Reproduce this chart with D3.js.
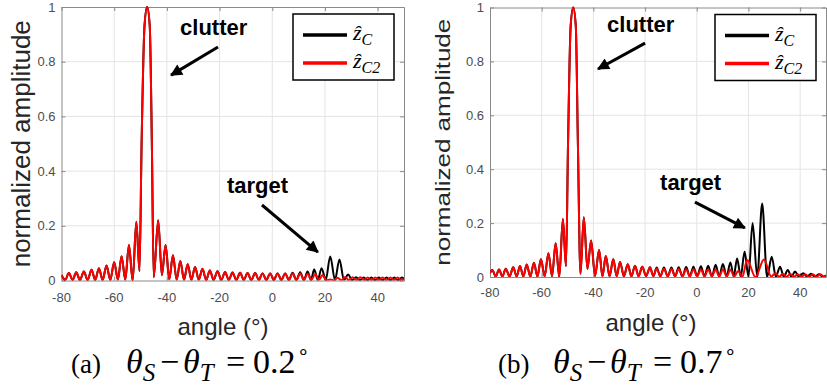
<html>
<head>
<meta charset="utf-8">
<title>clutter / target pattern</title>
<script src="https://d3js.org/d3.v7.min.js"></script>
<style>
  body { margin: 0; background: #ffffff; }
  svg text { font-family: "Liberation Sans", Arial, sans-serif; }
  .tick-label { font-size: 13px; fill: #4d4d4d; }
  .y-title { font-size: 26px; fill: #262626; }
  .x-title { font-size: 24px; fill: #262626; }
  .note { font-size: 22px; font-weight: bold; fill: #000; }
  .legend-text { font-family: "Liberation Serif", serif; font-style: italic; fill: #000; }
  .caption { font-family: "Liberation Serif", "Times New Roman", serif; fill: #000; }
  .grid line { stroke: #e4e4e4; stroke-width: 1; }
</style>
</head>
<body>
<div class="chart-wrapper"></div>
<script>
var xTicks = [-80, -60, -40, -20, 0, 20, 40];
var yTicks = [0, 0.2, 0.4, 0.6, 0.8, 1];
var yTickLabels = ['0', '0.2', '0.4', '0.6', '0.8', '1'];
var xDomain = [-80, 50];
var legendNames = [['ẑ', 'C'], ['ẑ', 'C2']];
var seriesColors = ['#000000', '#ff0000'];

// (a) shared part of both curves: [angle, amplitude], peaks and nulls
var headA = [
    [-80, 0.020], [-78.6, 0.002], [-77.2, 0.027], [-75.8, 0.002], [-74.4, 0.030], [-73.0, 0.002],
    [-71.5, 0.033], [-70.1, 0.002], [-68.6, 0.039], [-67.2, 0.002], [-65.8, 0.045], [-64.4, 0.002],
    [-62.9, 0.055], [-61.5, 0.002], [-60.0, 0.067], [-58.6, 0.003], [-57.2, 0.089], [-55.8, 0.003],
    [-54.4, 0.130], [-53.0, 0.000], [-51.6, 0.215], [-50.4, 0.035], [-49.6, 0.50], [-48.5, 0.93],
    [-47.5, 1.000], [-46.5, 0.93], [-45.7, 0.50], [-45.0, 0.012], [-43.3, 0.220], [-41.9, 0.020],
    [-40.5, 0.130], [-39.1, 0.004], [-37.7, 0.092], [-36.3, 0.003], [-34.9, 0.071], [-33.5, 0.003],
    [-32.1, 0.059], [-30.7, 0.003], [-29.3, 0.049], [-27.9, 0.003], [-26.5, 0.043], [-25.1, 0.002],
    [-23.7, 0.037], [-22.25, 0.002], [-20.8, 0.034], [-19.35, 0.002], [-17.9, 0.031], [-16.5, 0.002],
    [-15.1, 0.029], [-13.65, 0.002], [-12.2, 0.028], [-10.8, 0.002], [-9.4, 0.027], [-7.95, 0.002],
    [-6.5, 0.027], [-5.1, 0.002], [-3.7, 0.026], [-2.25, 0.002], [-0.8, 0.026], [0.6, 0.002],
    [2.0, 0.026], [3.45, 0.002], [4.9, 0.026]
];
var zcTailA = [
    [6.3, 0.002], [7.7, 0.028], [9.15, 0.002], [10.6, 0.030], [12.0, 0.002], [13.4, 0.033],
    [14.7, 0.002], [15.9, 0.040], [17.3, 0.002], [18.7, 0.045], [20.3, 0.002], [22.0, 0.088],
    [23.8, 0.002], [25.5, 0.077], [27.2, 0.002], [28.8, 0.022], [30.3, 0.001], [31.8, 0.012],
    [33.2, 0.001], [34.7, 0.011], [36.1, 0.001], [37.6, 0.011], [39.0, 0.001], [40.5, 0.011],
    [41.9, 0.001], [43.4, 0.011], [44.8, 0.001], [46.3, 0.011], [47.7, 0.001], [49.2, 0.011],
    [50, 0.006]
];
var zc2TailA = [
    [6.3, 0.002], [7.7, 0.026], [9.15, 0.002], [10.6, 0.026], [12.0, 0.002], [13.4, 0.025],
    [14.85, 0.002], [16.3, 0.024], [17.7, 0.002], [19.1, 0.020], [20.5, 0.000], [22.0, 0.004],
    [23.4, 0.000], [24.8, 0.010], [26.2, 0.001], [27.7, 0.013], [29.1, 0.001], [30.5, 0.012],
    [32.0, 0.001], [33.4, 0.012], [34.8, 0.001], [36.2, 0.011], [37.6, 0.001], [39.1, 0.011],
    [40.5, 0.001], [41.9, 0.011], [43.4, 0.001], [44.8, 0.011], [46.2, 0.001], [47.6, 0.011],
    [49.0, 0.001], [50, 0.006]
];

// (b)
var headB = [
    [-80, 0.015], [-79.1, 0.026], [-77.8, 0.002], [-76.5, 0.028], [-75.2, 0.002], [-73.9, 0.031],
    [-72.45, 0.002], [-71.0, 0.036], [-69.7, 0.002], [-68.4, 0.041], [-67.1, 0.002], [-65.8, 0.046],
    [-64.4, 0.002], [-63.0, 0.053], [-61.65, 0.002], [-60.3, 0.066], [-58.85, 0.003], [-57.4, 0.088],
    [-56.0, 0.003], [-54.6, 0.125], [-53.2, 0.000], [-51.8, 0.215], [-50.6, 0.040], [-49.8, 0.50],
    [-48.8, 0.93], [-47.8, 1.000], [-46.8, 0.93], [-46.0, 0.50], [-45.0, 0.012], [-43.7, 0.222],
    [-42.3, 0.030], [-40.9, 0.135], [-39.35, 0.004], [-37.8, 0.100], [-36.5, 0.003], [-35.2, 0.078],
    [-33.75, 0.003], [-32.3, 0.066], [-31.0, 0.003], [-29.7, 0.056], [-28.2, 0.003], [-26.7, 0.047],
    [-25.3, 0.003], [-23.9, 0.042], [-22.5, 0.003], [-21.1, 0.038], [-19.6, 0.003], [-18.1, 0.036]
];
var zcTailB = [
    [-16.8, 0.003], [-15.5, 0.035], [-14.1, 0.002], [-12.7, 0.035], [-11.25, 0.002], [-9.8, 0.035],
    [-8.4, 0.002], [-7.0, 0.036], [-5.55, 0.002], [-4.1, 0.037], [-2.7, 0.002], [-1.3, 0.038],
    [0.15, 0.002], [1.6, 0.040], [3.0, 0.002], [4.4, 0.042], [5.85, 0.002], [7.3, 0.045],
    [8.7, 0.002], [10.1, 0.048], [11.55, 0.002], [13.0, 0.054], [14.3, 0.002], [15.6, 0.069],
    [17.0, 0.002], [18.5, 0.094], [20.0, 0.002], [21.6, 0.200], [23.4, 0.000], [25.3, 0.273],
    [27.2, 0.000], [29.0, 0.075], [30.6, 0.001], [32.2, 0.038], [33.7, 0.001], [35.2, 0.026],
    [36.6, 0.001], [38.0, 0.020], [39.6, 0.001], [41.2, 0.014], [42.7, 0.001], [44.2, 0.012],
    [45.7, 0.001], [47.3, 0.010], [48.8, 0.001], [50, 0.006]
];
var zc2TailB = [
    [-16.8, 0.003], [-15.5, 0.032], [-14.1, 0.002], [-12.7, 0.031], [-11.25, 0.002], [-9.8, 0.030],
    [-8.4, 0.002], [-7.0, 0.030], [-5.55, 0.002], [-4.1, 0.029], [-2.7, 0.002], [-1.3, 0.029],
    [0.15, 0.002], [1.6, 0.028], [3.0, 0.002], [4.4, 0.028], [5.85, 0.002], [7.3, 0.028],
    [8.7, 0.002], [10.1, 0.028], [11.6, 0.002], [13.0, 0.027], [14.5, 0.002], [16.0, 0.022],
    [17.6, 0.000], [19.5, 0.063], [22.7, 0.000], [26.0, 0.065], [28.8, 0.002], [30.4, 0.014],
    [31.9, 0.001], [33.3, 0.012], [34.7, 0.001], [36.2, 0.011], [37.6, 0.001], [39.1, 0.010],
    [40.5, 0.001], [42.0, 0.010], [43.4, 0.001], [44.9, 0.010], [46.3, 0.001], [47.8, 0.010],
    [49.2, 0.001], [50, 0.006]
];

// annotations in data units: [textX, textY, arrowFromX, arrowFromY, arrowToX, arrowToY]
var clutterNoteA = [-35.0, 0.897, -20.6, 0.854, -38.4, 0.751];
var targetNoteA = [-17.2, 0.320, -3.9, 0.276, 17.3, 0.104];
var clutterNoteB = [-34.7, 0.909, -20.0, 0.868, -38.2, 0.772];
var targetNoteB = [-14.2, 0.323, -0.7, 0.278, 18.6, 0.182];

var panels = [
    { id: 'a', left: 61.5, right: 404, top: 7, bottom: 280.5, series: [headA.concat(zcTailA), headA.concat(zc2TailA)],
      clutter: clutterNoteA, target: targetNoteA, titleX: 30, titleSquash: 1, xLabelY: 302,
      angleX: 223, angleY: 335, capX: 71, capLetter: '(a)', capValue: '0.2' },
    { id: 'b', left: 490, right: 826, top: 7.5, bottom: 277, series: [headB.concat(zcTailB), headB.concat(zc2TailB)],
      clutter: clutterNoteB, target: targetNoteB, titleX: 450, titleSquash: 0.75, xLabelY: 297,
      angleX: 651, angleY: 331, capX: 498, capLetter: '(b)', capValue: '0.7' }
];

var svg = d3.select('.chart-wrapper').append('svg')
    .attr('width', 827).attr('height', 387);

var defs = svg.append('defs');
defs.append('marker')
    .attr('id', 'arrowhead')
    .attr('viewBox', '0 0 10 10')
    .attr('refX', 9).attr('refY', 5)
    .attr('markerWidth', 4.5).attr('markerHeight', 4)
    .attr('markerUnits', 'strokeWidth')
    .attr('orient', 'auto')
    .append('path').attr('d', 'M0,0 L10,5 L0,10 z').attr('fill', '#000');

function drawPanel(p) {
    var x = d3.scaleLinear().domain(xDomain).range([p.left, p.right]);
    var y = d3.scaleLinear().domain([0, 1]).range([p.bottom, p.top]);
    var g = svg.append('g').attr('id', 'panel-' + p.id);

    defs.append('clipPath').attr('id', 'clip-' + p.id)
        .append('rect')
        .attr('x', p.left).attr('y', p.top - 2)
        .attr('width', p.right - p.left).attr('height', p.bottom - p.top + 2);

    // grid
    var grid = g.append('g').attr('class', 'grid');
    grid.selectAll('.gx').data(xTicks.slice(1)).enter().append('line')
        .attr('x1', x).attr('x2', x).attr('y1', p.top).attr('y2', p.bottom);
    grid.selectAll('.gy').data(yTicks.slice(1, -1)).enter().append('line')
        .attr('x1', p.left).attr('x2', p.right).attr('y1', y).attr('y2', y);

    // axes, ticks point inward on all four sides
    g.append('g').attr('transform', 'translate(0,' + p.bottom + ')')
        .call(d3.axisBottom(x).tickValues(xTicks).tickSizeInner(-4).tickSizeOuter(0).tickFormat(''));
    g.append('g').attr('transform', 'translate(0,' + p.top + ')')
        .call(d3.axisTop(x).tickValues(xTicks).tickSizeInner(-4).tickSizeOuter(0).tickFormat(''));
    g.append('g').attr('transform', 'translate(' + p.left + ',0)')
        .call(d3.axisLeft(y).tickValues(yTicks).tickSizeInner(-4).tickSizeOuter(0).tickFormat(''));
    g.append('g').attr('transform', 'translate(' + p.right + ',0)')
        .call(d3.axisRight(y).tickValues(yTicks).tickSizeInner(-4).tickSizeOuter(0).tickFormat(''));
    g.selectAll('.domain, .tick line').attr('stroke', '#8a8a8a');

    g.selectAll('.xlab').data(xTicks).enter().append('text')
        .attr('class', 'tick-label')
        .attr('x', x).attr('y', p.xLabelY)
        .attr('text-anchor', 'middle')
        .text(function (d) { return d; });
    g.selectAll('.ylab').data(yTicks).enter().append('text')
        .attr('class', 'tick-label')
        .attr('x', p.left - 6).attr('y', function (d) { return y(d) + 4.5; })
        .attr('text-anchor', 'end')
        .text(function (d, i) { return yTickLabels[i]; });

    // curves
    var line = d3.line()
        .curve(d3.curveMonotoneX)
        .x(function (d) { return x(d[0]); })
        .y(function (d) { return y(d[1]); });
    g.append('g').attr('clip-path', 'url(#clip-' + p.id + ')')
        .selectAll('path').data(p.series).enter().append('path')
        .attr('d', line)
        .attr('fill', 'none')
        .attr('stroke', function (d, i) { return seriesColors[i]; })
        .attr('stroke-width', 2)
        .attr('stroke-linejoin', 'round');

    // annotations
    [[p.clutter, 'clutter'], [p.target, 'target']].forEach(function (n) {
        var a = n[0];
        g.append('text').attr('class', 'note')
            .attr('x', x(a[0])).attr('y', y(a[1])).text(n[1]);
        g.append('line')
            .attr('x1', x(a[2])).attr('y1', y(a[3]))
            .attr('x2', x(a[4])).attr('y2', y(a[5]))
            .attr('stroke', '#000').attr('stroke-width', 3)
            .attr('marker-end', 'url(#arrowhead)');
    });

    // legend
    var lg = g.append('g').attr('transform', 'translate(' + (p.right - 111) + ',' + (p.top + 7) + ')');
    lg.append('rect').attr('width', 101).attr('height', 66)
        .attr('fill', '#fff').attr('stroke', '#000').attr('stroke-width', 1.5);
    legendNames.forEach(function (nm, i) {
        var ly = 21 + i * 28;
        lg.append('line').attr('x1', 10).attr('x2', 54).attr('y1', ly).attr('y2', ly)
            .attr('stroke', seriesColors[i]).attr('stroke-width', 3.5);
        var t = lg.append('text').attr('class', 'legend-text')
            .attr('x', 60).attr('y', ly + 5);
        t.append('tspan').style('font-size', '22px').text(nm[0]);
        t.append('tspan').style('font-size', '16px').attr('dy', 5).text(nm[1]);
    });

    // axis titles
    var midY = (p.top + p.bottom) / 2;
    g.append('text').attr('class', 'y-title')
        .attr('text-anchor', 'middle')
        .attr('transform', 'translate(' + p.titleX + ',' + midY + ') scale(' + p.titleSquash + ',1) rotate(-90)')
        .text('normalized amplitude');
    g.append('text').attr('class', 'x-title')
        .attr('x', p.angleX).attr('y', p.angleY)
        .attr('text-anchor', 'middle')
        .text('angle (°)');

    // caption: (a)  θS − θT = 0.2°
    var cx = p.capX;
    var cap = g.append('text').attr('class', 'caption')
        .attr('x', cx).attr('y', 373).style('font-size', '27px');
    cap.append('tspan').text(p.capLetter);
    cap.append('tspan').attr('x', cx + 55).style('font-style', 'italic').style('font-size', '34px').text('θ');
    cap.append('tspan').style('font-style', 'italic').style('font-size', '25px').attr('dy', 8).text('S');
    cap.append('tspan').attr('x', cx + 89).style('font-size', '34px').attr('dy', -8).text('−');
    cap.append('tspan').attr('x', cx + 112).style('font-style', 'italic').style('font-size', '34px').text('θ');
    cap.append('tspan').style('font-style', 'italic').style('font-size', '25px').attr('dy', 8).text('T');
    cap.append('tspan').attr('x', cx + 155).style('font-size', '34px').attr('dy', -8).text('=');
    cap.append('tspan').attr('x', cx + 182).style('font-size', '34px').text(p.capValue);
    cap.append('tspan').attr('x', cx + 226).style('font-size', '20px').attr('dy', -14).text('∘');
}

panels.forEach(drawPanel);
</script>
</body>
</html>
